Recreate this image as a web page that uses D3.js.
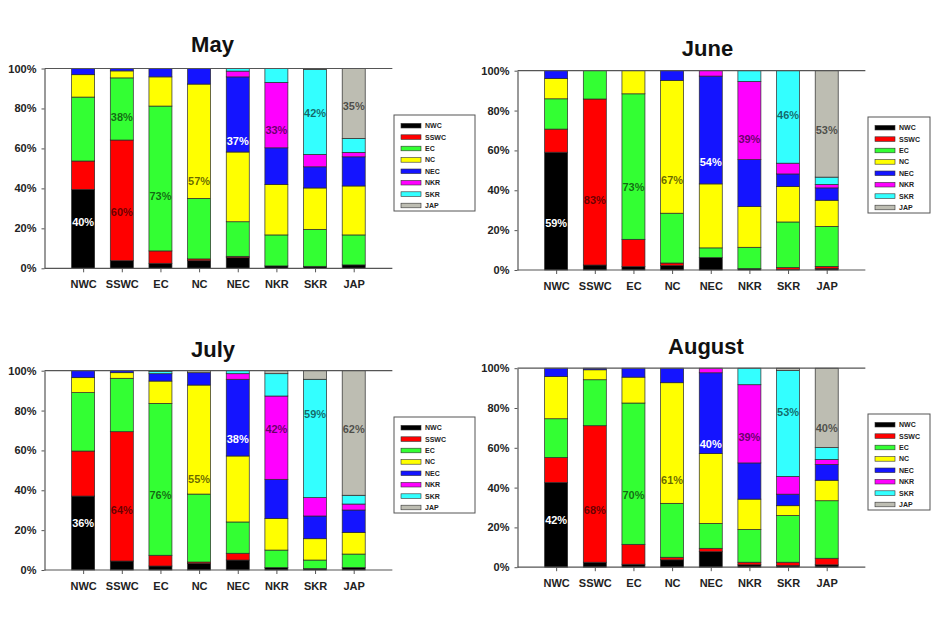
<!DOCTYPE html>
<html><head><meta charset="utf-8">
<script src="https://cdn.jsdelivr.net/npm/d3@7"></script>
<style>
html,body{margin:0;padding:0;background:#fff;}
svg{display:block;font-family:"Liberation Sans",Arial,sans-serif;}
</style></head>
<body><svg id="c" width="933" height="627"></svg>
<script>
// ---- data ----
const categories = ["NWC","SSWC","EC","NC","NEC","NKR","SKR","JAP"];
const sources = ["NWC","SSWC","EC","NC","NEC","NKR","SKR","JAP"];
const sourceColors = ["#000000","#ff0000","#33ff33","#ffff00","#1414ff","#ff00ff","#33ffff","#bdbdb2"];
const yTicks = [0,20,40,60,80,100];
const months = ["May","June","July","August"];

// rows = categories, columns = sources (% share)
const mayValues = [
  [39.5,14.2,32.0,11.2,3.1,0,0,0],
  [3.8,60.4,31.1,3.5,1.2,0,0,0],
  [2.5,6.2,72.5,14.6,4.2,0,0,0],
  [3.8,0.9,30.3,57.2,7.8,0,0,0],
  [5.3,0.7,17.3,34.9,37.6,2.9,1.3,0],
  [1.2,0,15.5,25.3,18.3,32.7,7.0,0],
  [1.0,0,18.5,20.7,10.6,6.2,42.5,0.5],
  [1.7,0,15.0,24.5,14.6,2.2,7.0,35.0]
];
const juneValues = [
  [59.1,11.6,15.2,10.2,3.9,0,0,0],
  [2.5,83.3,14.2,0,0,0,0,0],
  [1.7,13.7,73.0,11.6,0,0,0,0],
  [2.2,1.3,25.0,66.6,4.9,0,0,0],
  [6.2,0,4.9,32.1,54.1,2.7,0,0],
  [0.7,0,10.7,20.4,23.6,39.2,5.4,0],
  [0.3,0.9,22.9,17.8,6.3,5.4,46.4,0],
  [0.8,1.0,20.1,13.1,6.2,1.7,3.7,53.4]
];
const julyValues = [
  [37.1,22.6,29.3,7.5,3.5,0,0,0],
  [4.5,64.9,26.8,2.8,1.0,0,0,0],
  [2.0,5.4,76.2,11.2,3.7,0,1.2,0.3],
  [3.3,0.7,34.1,54.7,6.2,0,0,1.0],
  [5.0,3.4,15.7,33.1,38.5,2.8,1.5,0],
  [1.2,0,8.8,15.9,19.6,41.8,11.2,1.5],
  [0.7,0,4.3,10.7,11.4,9.2,59.4,4.3],
  [1.2,0,6.8,10.9,11.2,3.0,4.4,62.5]
];
const augustValues = [
  [42.6,12.5,19.5,21.2,4.2,0,0,0],
  [2.5,68.6,23.1,5.0,0.8,0,0,0],
  [1.5,10.0,71.0,13.0,4.5,0,0,0],
  [3.7,1.3,27.1,60.6,7.3,0,0,0],
  [7.8,1.7,12.5,35.1,40.6,2.3,0,0],
  [1.2,1.3,16.5,15.2,18.2,39.3,8.3,0],
  [0.8,1.7,23.5,4.9,5.8,8.9,53.2,1.2],
  [1.2,3.3,28.9,10.3,7.9,2.5,6.0,39.9]
];

// bar annotations: [category, text, value level (%) where the text sits]
const mayLabels = [["NWC","40%",23.3],["SSWC","60%",28],["SSWC","38%",75.8],["EC","73%",36],["NC","57%",43.6],["NEC","37%",63.6],["NKR","33%",69],["SKR","42%",77.7],["JAP","35%",81.4]];
const juneLabels = [["NWC","59%",23.5],["SSWC","83%",35],["EC","73%",41.7],["NC","67%",45],["NEC","54%",54],["NKR","39%",65.7],["SKR","46%",77.9],["JAP","53%",70.2]];
const julyLabels = [["NWC","36%",23.4],["SSWC","64%",29.9],["EC","76%",37.5],["NC","55%",45.5],["NEC","38%",65.9],["NKR","42%",70.6],["SKR","59%",78.4],["JAP","62%",70.9]];
const augustLabels = [["NWC","42%",23.4],["SSWC","68%",28.5],["EC","70%",36.1],["NC","61%",43.9],["NEC","40%",61.9],["NKR","39%",65.6],["SKR","53%",78],["JAP","40%",70]];

// ---- layout ----
const panels = [
  {title:months[0], values:mayValues, labels:mayLabels, x0:44.5, top:68.5, bottom:268.3, tx:212.5, ty:52, lx:394, ly:115, lw:81},
  {title:months[1], values:juneValues, labels:juneLabels, x0:517.5, top:70.7, bottom:270, tx:707.5, ty:56, lx:868, ly:117, lw:62},
  {title:months[2], values:julyValues, labels:julyLabels, x0:44.5, top:370.7, bottom:570, tx:213, ty:356.5, lx:394, ly:417, lw:81},
  {title:months[3], values:augustValues, labels:augustLabels, x0:517.5, top:368.2, bottom:567.2, tx:706, ty:354, lx:868, ly:414, lw:62}
];
const step = 38.65, barW = 23;
const svg = d3.select("#c");
const color = d3.scaleOrdinal().domain(sources).range(sourceColors);

panels.forEach(p => {
  const g = svg.append("g");
  const x = d3.scalePoint().domain(categories).range([p.x0 + step, p.x0 + 8*step]);
  const xEnd = p.x0 + 9*step;
  const y = d3.scaleLinear().domain([0,100]).range([p.bottom, p.top]);

  const rows = p.values.map((r,i) => {
    const o = {cat: categories[i]};
    sources.forEach((s,j) => o[s] = r[j]);
    return o;
  });
  const stack = d3.stack().keys(sources).offset(d3.stackOffsetExpand)(rows);

  // bars
  stack.forEach(layer => {
    g.append("g").selectAll("rect").data(layer.filter(d => d[1]-d[0] > 1e-6)).join("rect")
      .attr("x", d => x(d.data.cat) - barW/2)
      .attr("width", barW)
      .attr("y", d => y(d[1]*100))
      .attr("height", d => y(d[0]*100) - y(d[1]*100))
      .attr("fill", color(layer.key))
      .attr("stroke", "#2a2a2a").attr("stroke-width", 0.7);
  });

  // frame lines
  g.append("line").attr("x1", p.x0).attr("x2", xEnd).attr("y1", y(100)).attr("y2", y(100))
    .attr("stroke", "#555").attr("stroke-width", 1.2);
  g.append("line").attr("x1", p.x0).attr("x2", xEnd).attr("y1", y(0)).attr("y2", y(0))
    .attr("stroke", "#555").attr("stroke-width", 1.2);

  // y axis
  const ya = g.append("g").attr("transform", `translate(${p.x0},0)`)
    .call(d3.axisLeft(y).tickValues(yTicks).tickFormat(d => d + "%").tickSize(3).tickSizeOuter(0).tickPadding(5));
  ya.select(".domain").attr("stroke", "#555").attr("stroke-width", 1.2);
  ya.selectAll(".tick line").attr("stroke", "#555");
  ya.selectAll("text").attr("font-size", 11).attr("font-weight", "bold").attr("fill", "#222")
    .attr("font-family", "Liberation Sans, Arial, sans-serif");

  // x axis
  const xa = g.append("g").attr("transform", `translate(0,${p.bottom})`)
    .call(d3.axisBottom(x).tickSize(4).tickPadding(8));
  xa.select(".domain").remove();
  xa.selectAll(".tick line").attr("stroke", "#555");
  xa.selectAll("text").attr("font-size", 11).attr("font-weight", "bold").attr("fill", "#222")
    .attr("font-family", "Liberation Sans, Arial, sans-serif");

  // annotations
  p.labels.forEach(([cat, txt, lv]) => {
    const ci = categories.indexOf(cat);
    let si = 0;
    stack.forEach((layer, k) => { const d = layer[ci]; if (lv/100 >= d[0] && lv/100 < d[1]) si = k; });
    const dark = (si === 0 || si === 4);
    g.append("text").attr("x", x(cat)).attr("y", y(lv)).attr("dy", "0.35em")
      .attr("text-anchor", "middle").attr("font-size", 11).attr("font-weight", "bold")
      .attr("fill", dark ? "#fff" : "#000").attr("fill-opacity", dark ? 1 : 0.6)
      .text(txt);
  });

  // title
  g.append("text").attr("x", p.tx).attr("y", p.ty).attr("text-anchor", "middle")
    .attr("font-size", 22).attr("font-weight", "bold").attr("fill", "#111").text(p.title);

  // legend
  const lg = g.append("g").attr("transform", `translate(${p.lx},${p.ly})`);
  lg.append("rect").attr("width", p.lw).attr("height", 96).attr("fill", "#fff")
    .attr("stroke", "#555").attr("stroke-width", 1);
  sources.forEach((s, i) => {
    const row = lg.append("g").attr("transform", `translate(7,${10.7 + i*11.4})`);
    row.append("rect").attr("x", 0).attr("y", -2.3).attr("width", 20).attr("height", 4.6)
      .attr("fill", color(s)).attr("stroke", "#333").attr("stroke-width", 0.6);
    row.append("text").attr("x", 24).attr("y", 0).attr("dy", "0.35em")
      .attr("font-size", 7).attr("font-weight", "bold").attr("fill", "#222").text(s);
  });
});
</script></body></html>
